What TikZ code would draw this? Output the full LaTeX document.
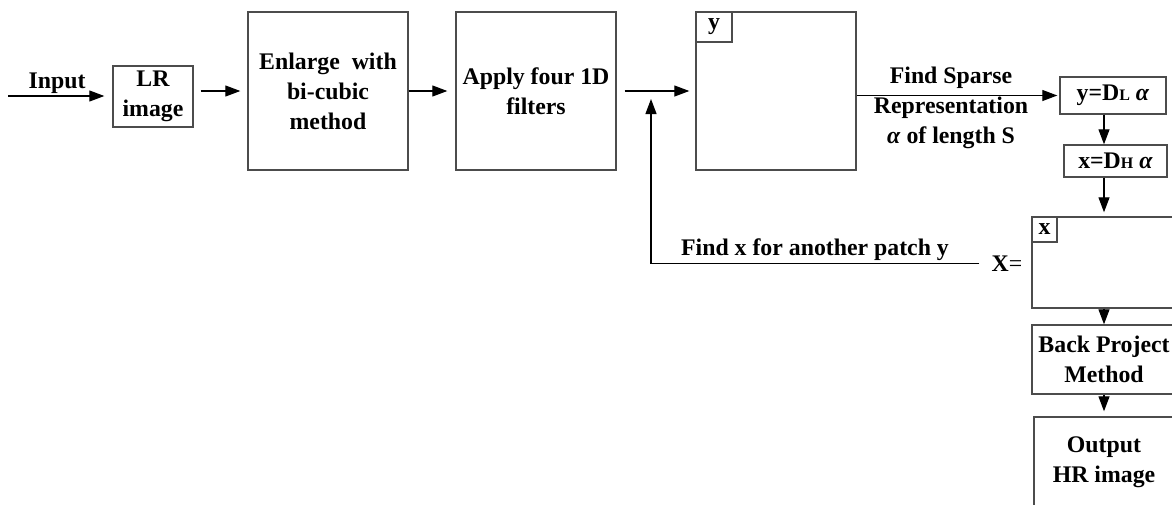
\documentclass[tikz,border=0pt]{standalone}
\usepackage{fontspec}
\setmainfont{Liberation Serif}
\usetikzlibrary{arrows.meta}
\begin{document}
\begin{tikzpicture}[x=0.5pt, y=-0.5pt,
  font=\bfseries\fontsize{11.9}{15}\selectfont,
  box/.style={draw=black!70, line width=0.7pt, align=center, inner sep=0pt},
  arr/.style={-{Triangle[length=7.5pt,width=5.5pt]}, line width=0.6pt}]
\useasboundingbox (0,0) rectangle (1172,504);
\clip (0,0) rectangle (1172,504);
% blocks
\node[box, minimum width=40pt, minimum height=30.5pt] (lrimg) at (153,96.5) {LR\\image};
\node[box, minimum width=80pt, minimum height=79pt] (enlarge) at (328,91) {Enlarge\ \ with\\bi-cubic\\method};
\node[box, minimum width=80pt, minimum height=79pt] (apply) at (536,91) {Apply four 1D\\filters};
\node[box, minimum width=80pt, minimum height=79pt] (ypatch) at (776,91) {};
\node[box, minimum width=18pt, minimum height=15pt, anchor=north west] (ysmall) at (ypatch.north west) {y};
\node[box, minimum width=53pt, minimum height=18.5pt] (ydl) at (1113,95.5) {y=D{\fontsize{8}{8}\selectfont L} \textit{α}};
\node[box, minimum width=51.5pt, minimum height=16pt] (xdh) at (1115.5,161) {x=D{\fontsize{8}{8}\selectfont H} \textit{α}};
\node[box, minimum width=72pt, minimum height=45.5pt] (xpatch) at (1104,262.5) {};
\node[box, minimum width=12.5pt, minimum height=12.5pt, anchor=north west] (xsmall) at (xpatch.north west) {x};
\node[box, minimum width=72pt, minimum height=34.5pt] (backproj) at (1104,359.5) {Back Project\\Method};
\node[box, minimum width=70pt, minimum height=45pt] (outimg) at (1104,462) {Output\\HR image};
% labels
\node[anchor=base] (inlabel) at (57,88) {Input};
\node[align=center] (sparselabel) at (951,108) {Find Sparse\\Representation\\\textit{α} of length S};
\node[anchor=base] (fblabel) at (815,255) {Find x for another patch y};
\node[anchor=base, inner sep=0pt] (eqx) at (1007,271) {X\mdseries=};
% arrows
\coordinate (instart) at (8,96);
\coordinate (fjoin) at (651,90);
\draw[arr, shorten >=4pt] (instart) -- (lrimg.west |- instart);
\draw[arr, shorten <=3.5pt, shorten >=3.5pt] (lrimg.east |- enlarge.west) -- (enlarge.west);
\draw[arr, shorten >=4pt] (enlarge.east) -- (apply.west);
\draw[arr, shorten <=4pt, shorten >=3pt] (apply.east) -- (ypatch.west);
\draw[arr, shorten >=1pt] (ypatch.east |- ydl.west) -- (ydl.west);
\draw[arr] (ydl.south -| xpatch.north) -- (xdh.north -| xpatch.north);
\draw[arr, shorten >=2pt] (xdh.south -| xpatch.north) -- (xpatch.north);
\draw[arr] (xpatch.south) -- (backproj.north);
\draw[arr, shorten >=2.5pt] (backproj.south) -- (outimg.north);
\draw[arr, shorten <=6pt, shorten >=4.5pt] (eqx.west) -| (fjoin);
\end{tikzpicture}
\end{document}
